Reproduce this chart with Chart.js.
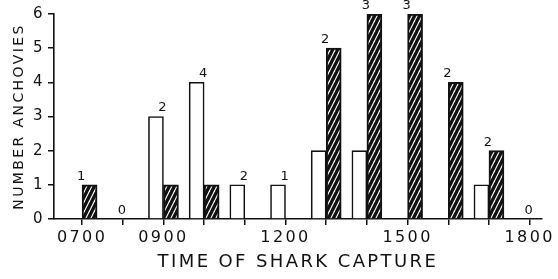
<!DOCTYPE html>
<html>
<head>
<meta charset="utf-8">
<script src="https://cdn.jsdelivr.net/npm/chart.js@4/dist/chart.umd.min.js"></script>
<style>
  html, body { margin: 0; padding: 0; background: #fff; }
  canvas { display: block; }
</style>
</head>
<body>
<canvas id="c" width="558" height="279"></canvas>
<script>
// ---- data ----
const hours = [7, 8, 9, 10, 11, 12, 13, 14, 15, 16, 17, 18];
const openValues = [0, 0, 3, 4, 1, 1, 2, 2, 0, 0, 1, 0];
const hatchedValues = [1, 0, 1, 1, 0, 0, 5, 6, 6, 4, 2, 0];
const sampleSizes = ['1', '0', '2', '4', '2', '1', '2', '3', '3', '2', '2', '0'];
const tickHours = [7, 9, 12, 15, 18];
const tickLabels = ['0700', '0900', '1200', '1500', '1800'];
const yTicks = [0, 1, 2, 3, 4, 5, 6];

// ---- hatch pattern ----
function makeHatch() {
  const w = 5, h = 10;
  const p = document.createElement('canvas');
  p.width = w; p.height = h;
  const g = p.getContext('2d');
  g.fillStyle = '#111';
  g.fillRect(0, 0, w, h);
  g.strokeStyle = '#fff';
  g.lineWidth = 1.2;
  for (const dx of [-w, 0, w]) {
    g.beginPath();
    g.moveTo(dx, h);
    g.lineTo(dx + w, 0);
    g.stroke();
  }
  return document.getElementById('c').getContext('2d').createPattern(p, 'repeat');
}
const hatch = makeHatch();

const FONT = "'DejaVu Sans', sans-serif";
const SPACING = '2.4px';

const spacingPlugin = {
  id: 'spacing',
  beforeLayout(chart) { chart.ctx.letterSpacing = SPACING; },
  beforeDraw(chart) { chart.ctx.letterSpacing = SPACING; }
};

const labelPlugin = {
  id: 'sampleLabels',
  afterDatasetsDraw(chart) {
    const ctx = chart.ctx;
    const xs = chart.scales.x, ys = chart.scales.y;
    ctx.save();
    ctx.letterSpacing = '0px';
    ctx.fillStyle = '#111';
    ctx.font = "13px " + FONT;
    ctx.textAlign = 'center';
    ctx.textBaseline = 'bottom';
    hours.forEach((h, i) => {
      const v = Math.max(openValues[i], hatchedValues[i]);
      const x = xs.getPixelForValue(h) - 1;
      const y = ys.getPixelForValue(v) - 2;
      ctx.fillText(sampleSizes[i], x, y);
    });
    ctx.restore();
  }
};

new Chart(document.getElementById('c'), {
  type: 'bar',
  data: {
    datasets: [
      {
        label: 'open',
        data: hours.map((h, i) => ({ x: h, y: openValues[i] })),
        backgroundColor: '#fff',
        borderColor: '#111',
        borderWidth: 1.6,
        barThickness: 15
      },
      {
        label: 'hatched',
        data: hours.map((h, i) => ({ x: h, y: hatchedValues[i] })),
        backgroundColor: hatch,
        borderColor: '#111',
        borderWidth: 2,
        barThickness: 15
      }
    ]
  },
  options: {
    responsive: false,
    animation: false,
    events: [],
    layout: { padding: { left: 0, right: 8, top: 14, bottom: 0 } },
    plugins: { legend: { display: false }, tooltip: { enabled: false } },
    scales: {
      x: {
        type: 'linear',
        offset: false,
        min: 6.31,
        max: 18.3,
        afterBuildTicks(scale) { scale.ticks = hours.map(v => ({ value: v })); },
        afterFit(scale) { scale.height = 60; },
        ticks: {
          autoSkip: false,
          maxRotation: 0,
          padding: 3,
          color: '#111',
          font: { family: FONT, size: 16 },
          callback(v) {
            const k = tickHours.indexOf(v);
            return k >= 0 ? tickLabels[k] : '';
          }
        },
        grid: { display: true, offset: false, drawOnChartArea: false, drawTicks: true, tickLength: 6, color: '#111', lineWidth: 1.5 },
        border: { display: true, color: '#111', width: 1.6 },
        title: {
          display: true,
          text: 'TIME OF SHARK CAPTURE',
          color: '#111',
          font: { family: FONT, size: 18 },
          padding: { top: 0, bottom: 6 }
        }
      },
      y: {
        min: 0,
        max: 6,
        afterBuildTicks(scale) { scale.ticks = yTicks.map(v => ({ value: v })); },
        afterFit(scale) { scale.width = 54; },
        ticks: {
          padding: 3,
          color: '#111',
          font: { family: FONT, size: 15 }
        },
        grid: { display: true, drawOnChartArea: false, drawTicks: true, tickLength: 6, color: '#111', lineWidth: 1.5 },
        border: { display: true, color: '#111', width: 1.6 },
        title: {
          display: true,
          text: 'NUMBER ANCHOVIES',
          color: '#111',
          font: { family: FONT, size: 14 },
          padding: { top: 11, bottom: 0 }
        }
      }
    }
  },
  plugins: [spacingPlugin, labelPlugin]
});
</script>
</body>
</html>
